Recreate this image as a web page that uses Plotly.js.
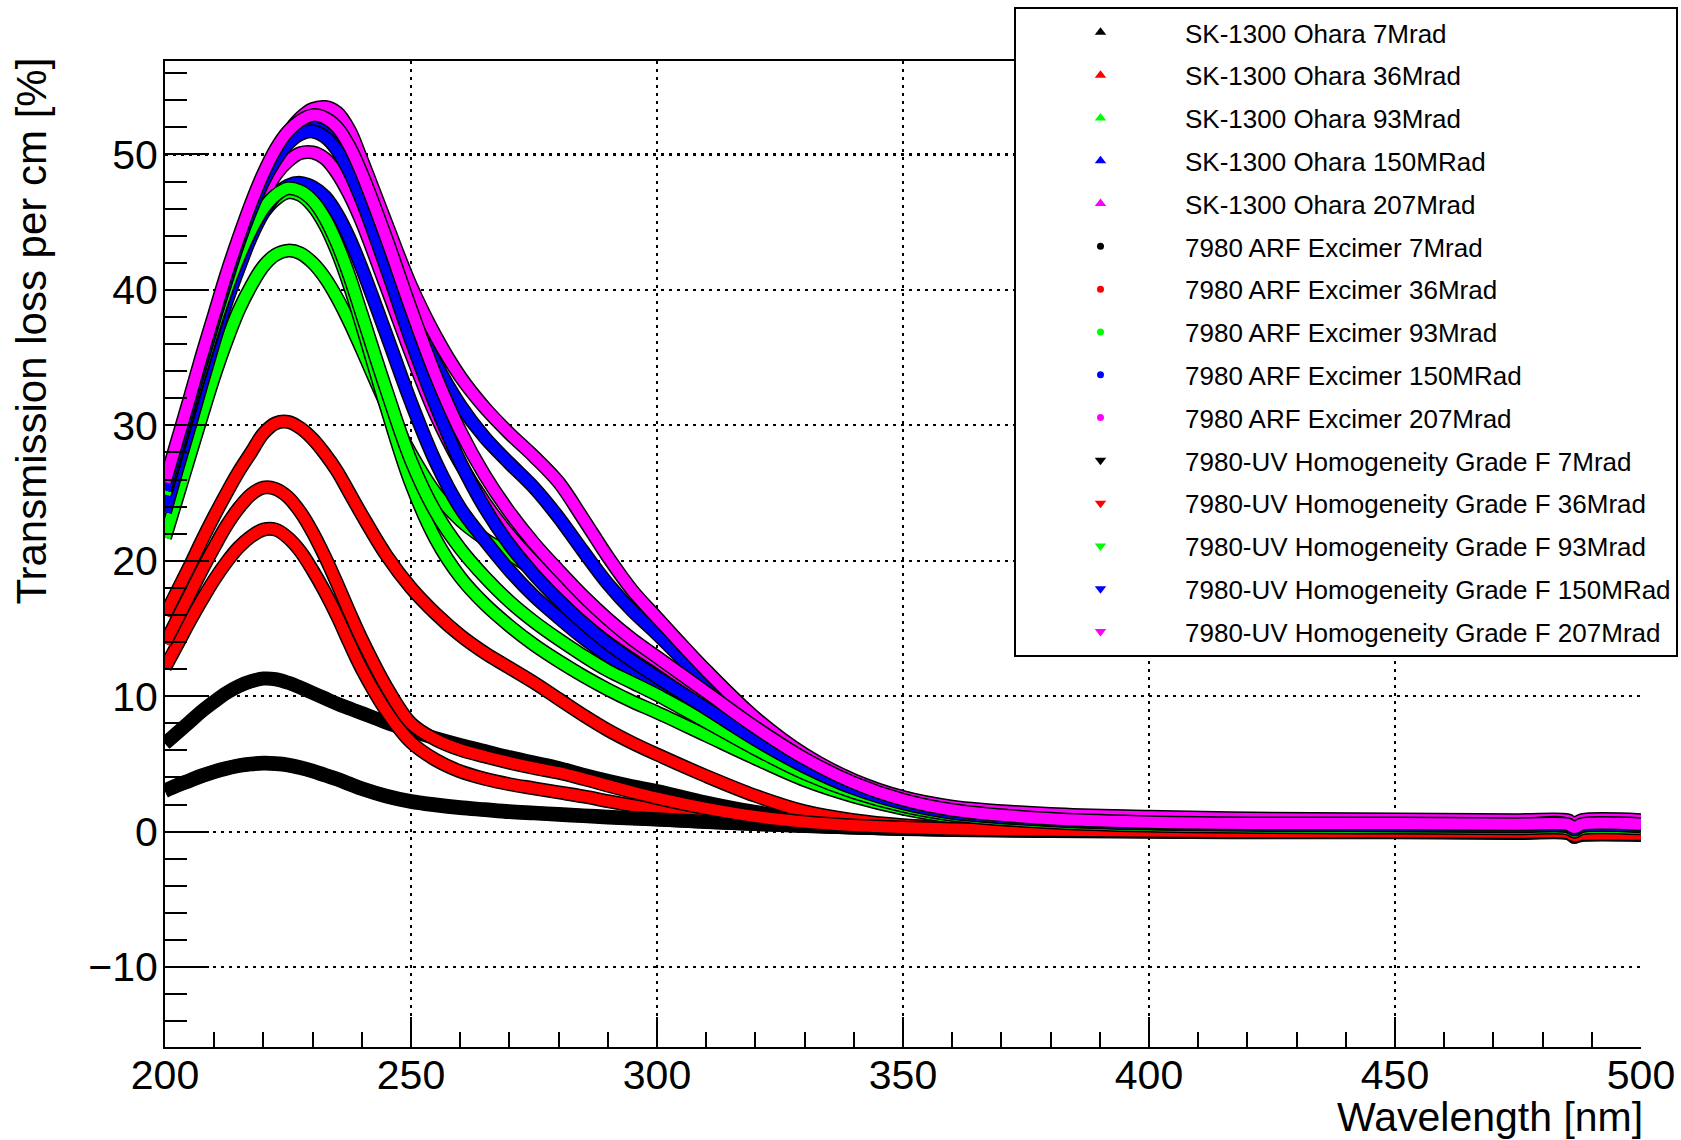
<!DOCTYPE html>
<html>
<head>
<meta charset="utf-8">
<script src="https://cdn.plot.ly/plotly-3.0.1.min.js"></script>
<style>
html,body{margin:0;padding:0;background:#ffffff;overflow:hidden;}
#chart{width:1681px;height:1140px;}
</style>
</head>
<body>
<div id="chart"></div>
<script>
// Wavelength grid [nm]
const wavelength = [200,202.5,205,207.5,210,212.5,215,217.5,220,222.5,225,227.5,230,232.5,235,237.5,240,
  245,250,255,260,265,270,275,280,285,290,295,300,
  310,320,330,340,350,360,
  380,400,425,450,475,485,486.5,488,500];

// SK-1300 Ohara
const sk7 = [6.5,7.3,8.1,8.9,9.6,10.25,10.75,11.1,11.3,11.25,11.0,10.65,10.25,9.85,9.45,9.1,8.75,
  8.05,7.45,6.9,6.4,5.95,5.5,5.1,4.7,4.2,3.75,3.35,3.0,
  2.15,1.45,0.95,0.6,0.38,0.24,
  0.1,0.05,0.0,0.0,-0.05,-0.05,-0.3,-0.15,-0.15];
const sk36 = [16.0,17.8,19.6,21.5,23.3,25.0,26.6,28.0,29.4,30.15,30.25,29.8,29.0,27.9,26.6,25.0,23.4,
  20.4,18.0,16.1,14.5,13.2,12.1,11.0,9.8,8.6,7.5,6.55,5.7,
  4.1,2.65,1.5,0.85,0.48,0.3,
  0.2,0.15,0.1,0.05,0.0,0.0,-0.25,-0.1,-0.1];
const sk93 = [21.7,24.7,27.7,30.7,33.6,36.2,38.5,40.3,41.75,42.6,42.9,42.7,42.0,40.9,39.4,37.6,35.6,
  31.5,27.9,25.0,23.0,21.6,20.5,19.3,17.8,16.2,14.7,13.4,12.2,
  9.8,7.3,5.1,3.4,2.2,1.5,
  0.95,0.65,0.55,0.5,0.45,0.45,0.2,0.45,0.45];
const sk150 = [24.3,27.5,30.7,34.0,37.2,40.2,43.1,45.7,47.9,49.8,51.1,51.9,52.2,52.0,51.3,49.9,47.9,
  43.3,38.6,34.6,31.5,29.1,27.2,25.4,23.2,20.7,18.3,16.3,14.6,
  11.0,7.8,5.3,3.5,2.35,1.65,
  1.05,0.8,0.65,0.6,0.55,0.55,0.3,0.55,0.55];
const sk207 = [24.9,28.0,31.1,34.2,37.3,40.3,43.1,45.7,48.0,50.0,51.6,52.7,53.35,53.5,53.1,51.8,49.6,
  44.9,40.3,36.6,33.6,31.3,29.4,27.7,25.8,23.1,20.3,17.8,15.8,
  11.9,8.4,5.7,3.8,2.55,1.85,
  1.3,1.1,0.95,0.9,0.85,0.85,0.6,0.85,0.85];

// 7980 ARF Excimer
const arf7 = [3.0,3.4,3.75,4.1,4.4,4.65,4.85,4.97,5.03,5.0,4.9,4.7,4.45,4.15,3.85,3.5,3.15,
  2.6,2.2,1.95,1.75,1.6,1.45,1.35,1.25,1.15,1.05,0.97,0.9,
  0.72,0.56,0.42,0.31,0.22,0.16,
  0.08,0.03,0.0,-0.02,-0.05,-0.05,-0.25,-0.15,-0.15];
const arf36 = [12.1,13.8,15.5,17.1,18.6,19.9,21.0,21.8,22.3,22.3,21.7,20.7,19.3,17.7,15.9,13.9,12.0,
  8.9,6.6,5.3,4.45,3.9,3.5,3.2,2.9,2.6,2.25,1.92,1.62,
  1.12,0.74,0.48,0.31,0.2,0.12,
  0.05,0.0,-0.05,-0.05,-0.1,-0.1,-0.35,-0.25,-0.25];
const arf93 = [24.6,27.7,30.9,34.0,37.0,39.7,42.1,44.1,45.7,46.7,47.2,47.0,46.2,44.8,42.8,40.3,37.4,
  31.3,25.7,21.6,18.8,16.8,15.2,13.8,12.6,11.5,10.5,9.6,8.8,
  7.1,5.4,3.8,2.6,1.7,1.1,
  0.6,0.4,0.3,0.25,0.2,0.2,-0.05,0.2,0.2];
const arf150 = [23.6,26.8,29.9,33.1,36.2,39.1,41.6,43.9,45.7,47.0,47.7,47.9,47.6,46.9,45.6,43.8,41.6,
  36.7,31.7,27.3,23.9,21.5,19.3,17.4,15.8,14.3,13.0,11.8,10.8,
  8.7,6.5,4.6,3.1,2.05,1.35,
  0.8,0.55,0.45,0.4,0.35,0.35,0.1,0.35,0.35];
const arf207 = [24.9,28.0,31.1,34.2,37.1,40.0,42.6,45.0,46.9,48.5,49.5,50.1,50.15,49.7,48.6,47.0,45.0,
  40.2,35.3,30.8,27.2,24.3,21.9,19.9,18.2,16.6,15.1,13.8,12.6,
  10.1,7.6,5.3,3.5,2.3,1.55,
  0.9,0.65,0.55,0.5,0.5,0.5,-0.4,0.35,0.35];

// 7980-UV Homogeneity Grade F
const uv7 = [3.05,3.45,3.8,4.15,4.45,4.7,4.9,5.02,5.08,5.05,4.95,4.75,4.5,4.2,3.9,3.55,3.2,
  2.65,2.25,2.0,1.8,1.65,1.5,1.4,1.3,1.2,1.1,1.0,0.92,
  0.73,0.57,0.43,0.32,0.22,0.16,
  0.09,0.04,0.0,-0.02,-0.05,-0.05,-0.25,-0.15,-0.15];
const uv36 = [13.9,15.7,17.5,19.3,21.0,22.6,23.9,24.9,25.4,25.3,24.7,23.6,22.1,20.3,18.3,16.2,14.2,
  10.7,8.0,6.8,6.05,5.55,5.1,4.7,4.35,3.9,3.4,2.92,2.48,
  1.72,1.12,0.72,0.46,0.3,0.2,
  0.1,0.05,0.0,0.0,-0.05,-0.05,-0.3,-0.2,-0.2];
const uv93 = [24.9,28.0,31.2,34.3,37.3,40.0,42.4,44.4,46.0,47.0,47.5,47.3,46.6,45.3,43.4,41.0,38.2,
  32.6,27.4,23.6,20.9,18.8,17.0,15.5,14.2,13.0,11.9,11.0,10.1,
  8.1,6.1,4.3,2.9,1.9,1.25,
  0.7,0.45,0.35,0.3,0.25,0.25,0.0,0.25,0.25];
const uv150 = [25.2,28.3,31.5,34.7,37.8,40.7,43.5,45.9,48.0,49.6,50.8,51.5,51.7,51.3,50.3,48.7,46.6,
  41.6,36.3,31.5,27.3,23.9,21.2,19.0,17.1,15.4,13.9,12.6,11.4,
  9.1,6.8,4.8,3.2,2.1,1.4,
  0.85,0.6,0.5,0.45,0.4,0.4,0.15,0.4,0.4];
const uv207 = [25.8,28.9,32.0,35.2,38.2,41.2,43.9,46.4,48.6,50.4,51.7,52.5,52.9,52.7,52.0,50.6,48.6,
  43.8,38.6,33.7,29.6,26.3,23.6,21.3,19.3,17.4,15.7,14.2,12.9,
  10.3,7.7,5.4,3.6,2.35,1.6,
  0.95,0.7,0.6,0.6,0.55,0.55,0.3,0.55,0.55];

const seriesNames = [
  "SK-1300 Ohara 7Mrad","SK-1300 Ohara 36Mrad","SK-1300 Ohara 93Mrad","SK-1300 Ohara 150MRad","SK-1300 Ohara 207Mrad",
  "7980 ARF Excimer 7Mrad","7980 ARF Excimer 36Mrad","7980 ARF Excimer 93Mrad","7980 ARF Excimer 150MRad","7980 ARF Excimer 207Mrad",
  "7980-UV Homogeneity Grade F 7Mrad","7980-UV Homogeneity Grade F 36Mrad","7980-UV Homogeneity Grade F 93Mrad","7980-UV Homogeneity Grade F 150MRad","7980-UV Homogeneity Grade F 207Mrad"
];
const seriesValues = [sk7, sk36, sk93, sk150, sk207, arf7, arf36, arf93, arf150, arf207, uv7, uv36, uv93, uv150, uv207];
const doseColors = ["#000000","#ff0000","#00ff00","#0000ff","#ff00ff"];
const materialSymbols = ["triangle-up","circle","triangle-down"];

const traces = [];
seriesValues.forEach(function(vals, i){
  const col = doseColors[i % 5];
  traces.push({x: wavelength, y: vals, type: "scatter", mode: "lines",
    line: {color: "#000000", width: 14, shape: "spline", smoothing: 1},
    showlegend: false, hoverinfo: "skip"});
  traces.push({x: wavelength, y: vals, type: "scatter", mode: "lines",
    line: {color: col, width: 11, shape: "spline", smoothing: 1},
    showlegend: false, hoverinfo: "skip"});
});
seriesNames.forEach(function(name, i){
  const sym = materialSymbols[Math.floor(i / 5)];
  traces.push({x: [null], y: [null], type: "scatter", mode: "markers", name: name,
    legendgroup: "g" + i, showlegend: true,
    marker: {symbol: sym, color: doseColors[i % 5], size: sym === "circle" ? 7 : 10, line: {width: 0}}});
});

const FONT = "Liberation Sans, Arial, Helvetica, sans-serif";
const layout = {
  width: 1681, height: 1140,
  margin: {l: 165, r: 40, t: 61, b: 93, autoexpand: false},
  paper_bgcolor: "#ffffff", plot_bgcolor: "#ffffff",
  font: {family: FONT, color: "#000000"},
  showlegend: true,
  xaxis: {
    range: [200, 500], tick0: 200, dtick: 50,
    ticks: "inside", ticklen: 30, tickwidth: 2, tickcolor: "#000000",
    showline: true, linewidth: 2, linecolor: "#000000", mirror: true,
    showgrid: true, gridcolor: "#000000", gridwidth: 2.2, griddash: "3px,5px",
    zeroline: false, tickfont: {size: 41, family: FONT}, ticklabelstandoff: -9,
    minor: {dtick: 10, ticks: "inside", ticklen: 15, tickwidth: 2, tickcolor: "#000000", showgrid: false}
  },
  yaxis: {
    range: [-15.9, 56.9], tick0: 0, dtick: 10,
    ticks: "inside", ticklen: 44, tickwidth: 2, tickcolor: "#000000",
    showline: true, linewidth: 2, linecolor: "#000000", mirror: false,
    showgrid: true, gridcolor: "#000000", gridwidth: 2.2, griddash: "3px,5px",
    zeroline: false, tickfont: {size: 41, family: FONT}, ticklabelstandoff: -3,
    minor: {dtick: 2, ticks: "inside", ticklen: 22, tickwidth: 2, tickcolor: "#000000", showgrid: false}
  },
  legend: {
    x: 0.5752, y: 1.0548, xanchor: "left", yanchor: "top",
    bgcolor: "#ffffff", bordercolor: "#000000", borderwidth: 2,
    font: {size: 26, family: FONT, color: "#000000"},
    itemwidth: 159, tracegroupgap: 6, traceorder: "grouped", itemclick: false,
    maxheight: 1100
  },
  annotations: [
    {text: "Transmission loss per cm [%]", xref: "paper", yref: "paper", x: -0.0901, y: 1.005,
     xanchor: "center", yanchor: "top", textangle: -90, showarrow: false, font: {size: 42, family: FONT}},
    {text: "Wavelength [nm]", xref: "paper", yref: "paper", x: 1.003, y: -0.071,
     xanchor: "right", yanchor: "middle", showarrow: false, font: {size: 41, family: FONT}}
  ]
};

Plotly.newPlot("chart", traces, layout, {displayModeBar: false, staticPlot: true});
</script>
</body>
</html>
